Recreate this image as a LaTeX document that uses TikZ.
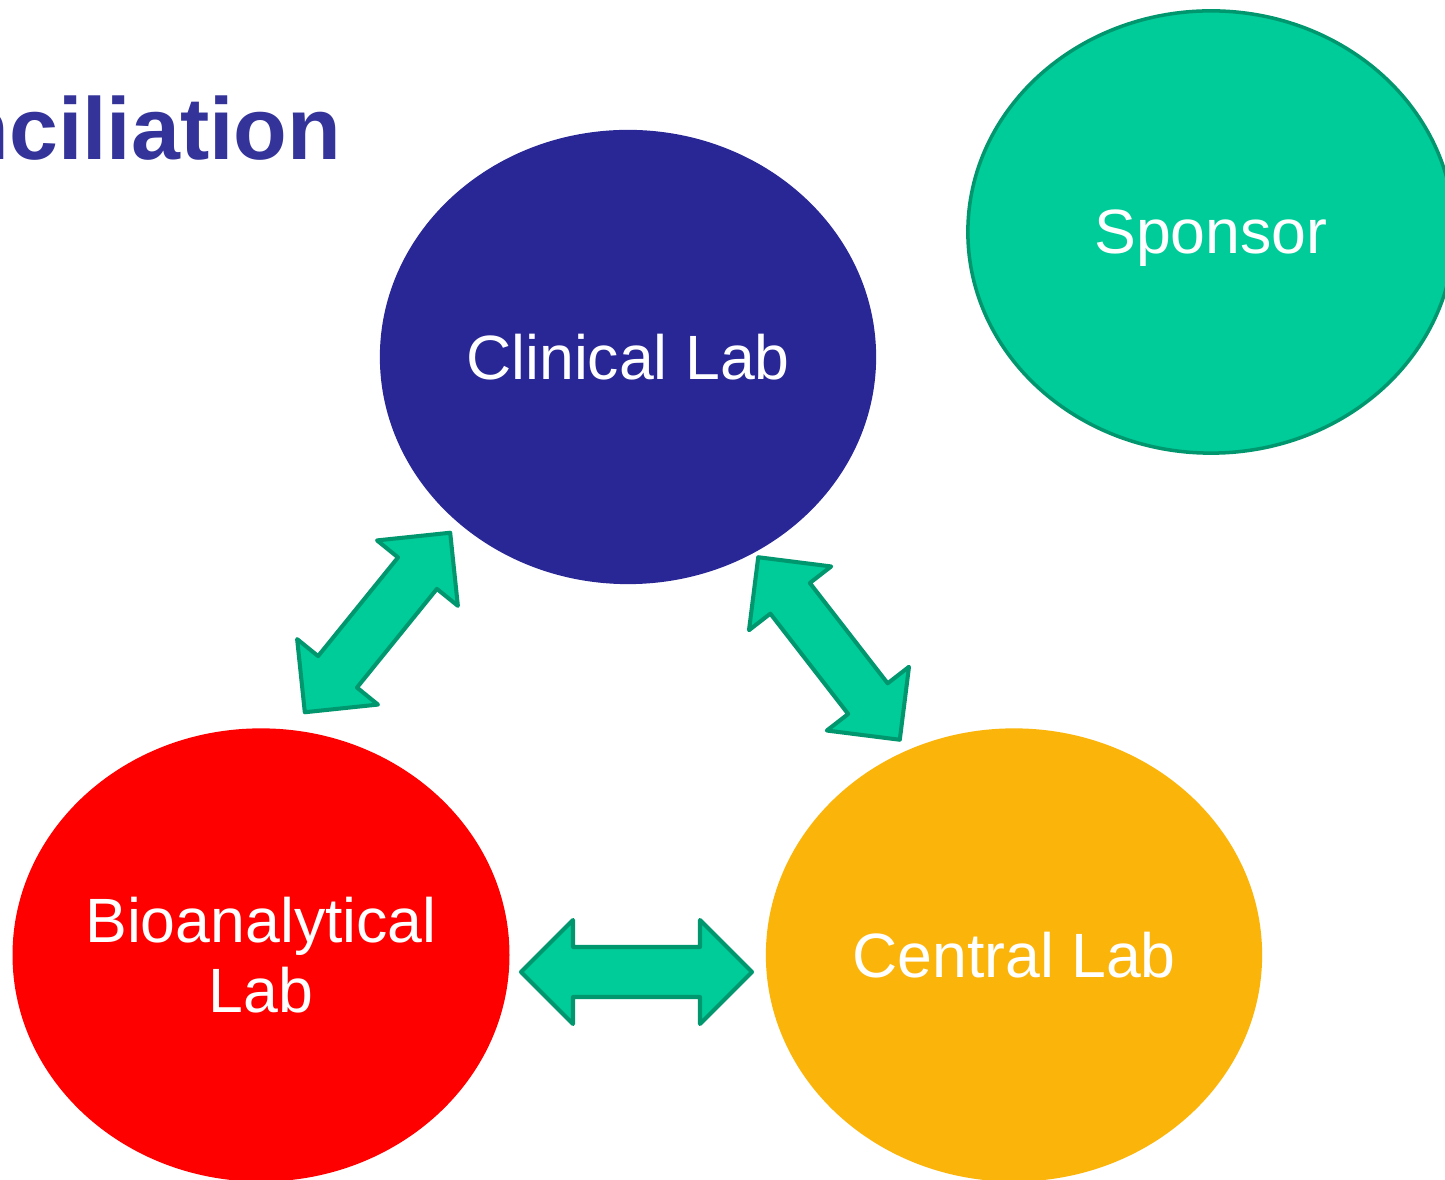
\documentclass[tikz,border=0pt]{standalone}
\usepackage{fontspec}
\setmainfont{Liberation Sans}
\usetikzlibrary{shapes.geometric}
\definecolor{clinblue}{RGB}{41,39,150}
\definecolor{titleblue}{RGB}{51,51,153}
\definecolor{bioRed}{RGB}{255,0,0}
\definecolor{centralOrange}{RGB}{251,180,10}
\definecolor{sponsorGreen}{RGB}{0,204,153}
\definecolor{arrowEdge}{RGB}{0,150,110}
\newcommand\labarrow[2]{%
  \draw[blockarrow, shift={(#1)}, rotate=#2]
    (-115.5,0) -- (-63.5,-52) -- (-63.5,-25) -- (63.5,-25) -- (63.5,-52) --
    (115.5,0) -- (63.5,52) -- (63.5,25) -- (-63.5,25) -- (-63.5,52) -- cycle;}
\begin{document}
\begin{tikzpicture}[x=0.01cm,y=-0.01cm,
  lab/.style={ellipse, inner sep=0pt, minimum width=4.96cm, minimum height=4.53cm,
    text=white, font=\fontsize{17.8}{19.9}\selectfont, align=center, text depth=0pt},
  blockarrow/.style={fill=sponsorGreen, draw=arrowEdge, line width=1.15pt, line join=round}]
\fill[white] (0,0) rectangle (1445,1180);
\useasboundingbox (0,0) rectangle (1445,1180);

\node[anchor=base east, inner sep=0pt, text=titleblue,
  font=\fontsize{25}{30}\selectfont\bfseries] (title) at (342,160) {nciliation};

\node[lab, fill=clinblue, minimum height=4.54cm] (clin) at (628,357) {Clinical Lab};
\node[lab, fill=sponsorGreen, draw=arrowEdge, line width=1pt,
  minimum width=4.86cm, minimum height=4.42cm] (spon) at (1211,232) {Sponsor};
\node[lab, fill=bioRed] (bio) at (261,955) {Bioanalytical\\Lab};
\node[lab, fill=centralOrange] (cent) at (1014,955) {Central Lab};

\coordinate (a1) at (377.5,622.5);
\coordinate (a2) at (829,648.5);
\coordinate (a3) at (636.5,972);
\labarrow{a1}{51}
\labarrow{a2}{-52.2}
\labarrow{a3}{0}
\end{tikzpicture}
\end{document}
